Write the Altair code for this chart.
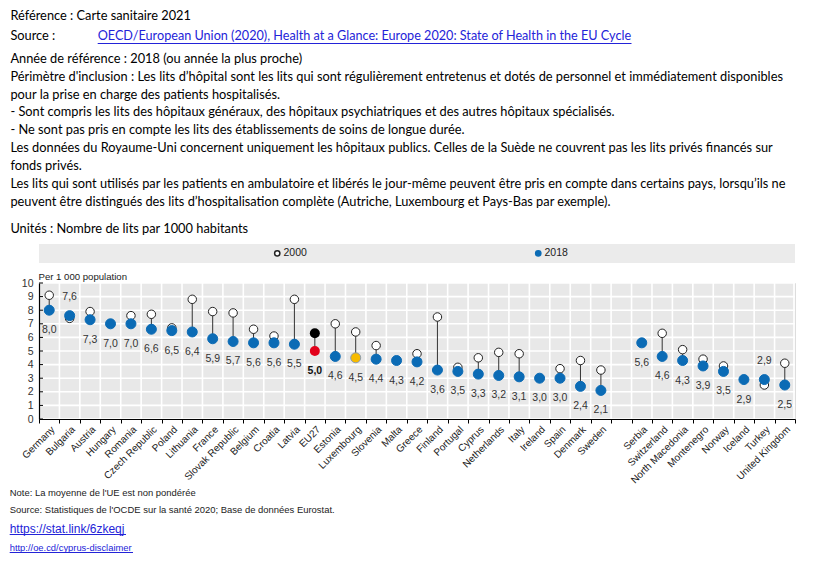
import altair as alt
import pandas as pd

countries = ["Germany", "Bulgaria", "Austria", "Hungary", "Romania", "Czech Republic", "Poland",
             "Lithuania", "France", "Slovak Republic", "Belgium", "Croatia", "Latvia", "EU27",
             "Estonia", "Luxembourg", "Slovenia", "Malta", "Greece", "Finland", "Portugal", "Cyprus",
             "Netherlands", "Italy", "Ireland", "Spain", "Denmark", "Sweden", " ",
             "Serbia", "Switzerland", "North Macedonia", "Montenegro", "Norway", "Iceland",
             "Turkey", "United Kingdom"]
v2018 = [8.0, 7.6, 7.3, 7.0, 7.0, 6.6, 6.5, 6.4, 5.9, 5.7, 5.6, 5.6, 5.5, 5.0, 4.6, 4.5, 4.4, 4.3,
         4.2, 3.6, 3.5, 3.3, 3.2, 3.1, 3.0, 3.0, 2.4, 2.1, None, 5.6, 4.6, 4.3, 3.9, 3.5, 2.9, 2.9, 2.5]
v2000 = [9.1, 7.4, 7.9, None, 7.6, 7.7, 6.7, 8.8, 7.9, 7.8, 6.6, 6.1, 8.8, 6.3, 7.0, 6.4, 5.4, None,
         4.8, 7.5, 3.8, 4.5, 4.9, 4.8, None, 3.7, 4.3, 3.6, None, None, 6.3, 5.1, 4.4, 3.9, None, 2.5, 4.1]
series_names = ["2000", "2018"]
y_ticks = list(range(11))

header_lines = [
    "Référence : Carte sanitaire 2021",
    "Source :",
    "Année de référence : 2018 (ou année la plus proche)",
    "Périmètre d'inclusion : Les lits d’hôpital sont les lits qui sont régulièrement entretenus et dotés de personnel et immédiatement disponibles",
    "pour la prise en charge des patients hospitalisés.",
    "- Sont compris les lits des hôpitaux généraux, des hôpitaux psychiatriques et des autres hôpitaux spécialisés.",
    "- Ne sont pas pris en compte les lits des établissements de soins de longue durée.",
    "Les données du Royaume-Uni concernent uniquement les hôpitaux publics. Celles de la Suède ne couvrent pas les lits privés financés sur",
    "fonds privés.",
    "Les lits qui sont utilisés par les patients en ambulatoire et libérés le jour-même peuvent être pris en compte dans certains pays, lorsqu’ils ne",
    "peuvent être distingués des lits d’hospitalisation complète (Autriche, Luxembourg et Pays-Bas par exemple).",
    "Unités : Nombre de lits par 1000 habitants",
]
source_link = "OECD/European Union (2020), Health at a Glance: Europe 2020: State of Health in the EU Cycle"
note_text = "Note: La moyenne de l'UE est non pondérée"
source_text = "Source: Statistiques de l'OCDE sur la santé 2020; Base de données Eurostat."
stat_link = "https://stat.link/6zkeqj"
cyprus_link = "http://oe.cd/cyprus-disclaimer"

BLUE = "#0b6bb5"
SANS = "Liberation Sans, Arial, sans-serif"
HEAD = "Lato, sans-serif"
LINK = "#2323d8"
W, H = 756, 136

rows = [(c, a, b) for c, a, b in zip(countries, v2000, v2018) if b is not None]
df = pd.DataFrame(rows, columns=["country", "v2000", "v2018"])
df["label"] = df["v2018"].map(lambda v: f"{v:.1f}".replace(".", ","))
df["above"] = df["v2000"].notna() & (df["v2000"] < df["v2018"])

long = pd.concat([
    pd.DataFrame({"country": df["country"], "series": "2000", "value": df["v2000"]}),
    pd.DataFrame({"country": df["country"], "series": "2018", "value": df["v2018"]}),
]).dropna()
long_main = long[~long["country"].isin(["EU27", "Luxembourg"])]

xscale = alt.Scale(domain=countries, paddingInner=0, paddingOuter=0)
yscale = alt.Scale(domain=[0, 10], nice=False)
xaxis = alt.Axis(title=None, labelAngle=-45, labelAlign="right", labelBaseline="top",
                 labelFont=SANS, labelFontSize=10, labelColor="#222", labelPadding=1,
                 tickBand="extent", grid=False, labelOverlap=False,
                 ticks=True, tickSize=4, tickColor="black", domainColor="black", domainWidth=1.2,
                 zindex=1)
yaxis = alt.Axis(title="Per 1 000 population", titleAngle=0, titleAlign="left", titleBaseline="bottom",
                 titleX=-1, titleY=-2, titleFont=SANS, titleFontSize=9.6, titleFontWeight="normal",
                 titleColor="#222", values=y_ticks, tickCount=11, labelFont=SANS, labelFontSize=10.5,
                 labelColor="#333", labelPadding=6, labelOverlap=False, labelFlush=False,
                 ticks=False, grid=False, domainColor="black", domainWidth=1.2, zindex=1)


def X(field="country:N", **kw):
    return alt.X(field, scale=xscale, axis=xaxis, sort=None, **kw)


def Y(field):
    return alt.Y(field, scale=yscale, axis=yaxis)


one = pd.DataFrame({"a": [0]})

band = alt.Chart(one).mark_rect(color="#ebebeb").encode(
    x=alt.value(0), x2=alt.value(W), y=alt.value(-39), y2=alt.value(-20))
bg = alt.Chart(one).mark_rect(color="#e8e8e8").encode(
    x=alt.value(0), x2=alt.value(W), y=alt.value(0), y2=alt.value(H))

grid_df = pd.DataFrame({"country": countries})
vgrid = alt.Chart(grid_df).mark_rule(color="white", strokeWidth=1.6).encode(
    x=X(bandPosition=0))
vgrid_end = alt.Chart(one).mark_rule(color="white", strokeWidth=1.6).encode(
    x=alt.value(W - 1), y=alt.value(0), y2=alt.value(H))
tick_df = pd.DataFrame({"tick": y_ticks})
hgrid = alt.Chart(tick_df).mark_rule(color="white", strokeWidth=1.6).encode(
    y=Y("tick:Q"))
yticks_in = alt.Chart(tick_df).mark_rule(color="black", strokeWidth=1).encode(
    y=Y("tick:Q"), x=alt.value(0), x2=alt.value(4))

conn = alt.Chart(df.dropna(subset=["v2000"])).mark_rule(color="#333", strokeWidth=1).encode(
    x=X(), y=Y("v2000:Q"), y2="v2018:Q")

pts = alt.Chart(long_main).mark_point(filled=True, opacity=1, strokeWidth=1).encode(
    x=X(), y=Y("value:Q"),
    fill=alt.Fill("series:N", scale=alt.Scale(domain=series_names, range=["white", BLUE]),
                  legend=alt.Legend(title=None, orient="none", legendX=233, legendY=-35,
                                    direction="horizontal", columnPadding=225, symbolSize=28,
                                    symbolType="circle", labelFont=SANS, labelFontSize=10.5,
                                    labelColor="#222", labelOffset=1, padding=0)),
    stroke=alt.Stroke("series:N", scale=alt.Scale(domain=series_names, range=["#222", BLUE]), legend=None),
    size=alt.condition("datum.series == '2000'", alt.value(72), alt.value(100)),
)

eu = long[long["country"] == "EU27"]
eu_pts = alt.Chart(eu).mark_point(filled=True, opacity=1, size=100).encode(
    x=X(), y=Y("value:Q"),
    color=alt.condition("datum.series == '2000'", alt.value("black"), alt.value("#e2001a")))
lux = long[(long["country"] == "Luxembourg")]
lux_pts = alt.Chart(lux).mark_point(filled=True, opacity=1, strokeWidth=1).encode(
    x=X(), y=Y("value:Q"),
    fill=alt.condition("datum.series == '2000'", alt.value("white"), alt.value("#f7bb00")),
    stroke=alt.condition("datum.series == '2000'", alt.value("#222"), alt.value("#8a9bb0")),
    size=alt.condition("datum.series == '2000'", alt.value(72), alt.value(100)))

below = df[~df["above"]]
lab_below = alt.Chart(below[below["country"] != "EU27"]).mark_text(
    dy=20, font=SANS, fontSize=10.5, color="#333").encode(
    x=X(), y=Y("v2018:Q"), text="label:N")
lab_eu = alt.Chart(below[below["country"] == "EU27"]).mark_text(
    dy=20, font=SANS, fontSize=10.5, color="#111", fontWeight="bold").encode(
    x=X(), y=Y("v2018:Q"), text="label:N")
lab_above = alt.Chart(df[df["above"]]).mark_text(dy=-19, font=SANS, fontSize=10.5, color="#333").encode(
    x=X(), y=Y("v2018:Q"), text="label:N")


def txt(s, x, y, size, font, color="#000"):
    return alt.Chart(pd.DataFrame({"t": [s]})).mark_text(
        align="left", baseline="middle", font=font, fontSize=size, color=color).encode(
        x=alt.value(x), y=alt.value(y), text="t:N")


def uline(x1, x2, y, color):
    return alt.Chart(one).mark_rule(color=color, strokeWidth=1).encode(
        x=alt.value(x1), x2=alt.value(x2), y=alt.value(y))


head_y = [-267, -247, -224, -206, -188.3, -170.6, -152.6, -135, -117, -99, -81, -54]
hx = -28.6
texts = [txt(s, hx, y, 12.8, HEAD) for s, y in zip(header_lines, head_y)]
texts.append(txt(source_link, 58.7, -247, 12.65, HEAD, LINK))
texts.append(uline(58.7, 592.5, -239.5, LINK))
texts.append(txt(note_text, -29.3, 210, 9.45, SANS, "#222"))
texts.append(txt(source_text, -29.3, 226.7, 9.45, SANS, "#222"))
texts.append(txt(stat_link, -29.3, 245.5, 12, SANS, LINK))
texts.append(uline(-29.3, 87, 251.5, LINK))
texts.append(txt(cyprus_link, -29.3, 264.7, 9.4, SANS, LINK))
texts.append(uline(-29.3, 94, 269.5, LINK))

chart = alt.layer(bg, vgrid, vgrid_end, hgrid, yticks_in, band, conn, pts, eu_pts, lux_pts,
                  lab_below, lab_eu, lab_above, *texts).properties(
    width=W, height=H,
    padding={"left": 31, "top": 275, "right": 11, "bottom": 139},
    autosize=alt.AutoSizeParams(type="none"),
).configure_view(strokeWidth=0).configure(background="white")

chart.save("out.html", embed_options={"renderer": "svg", "actions": False})
